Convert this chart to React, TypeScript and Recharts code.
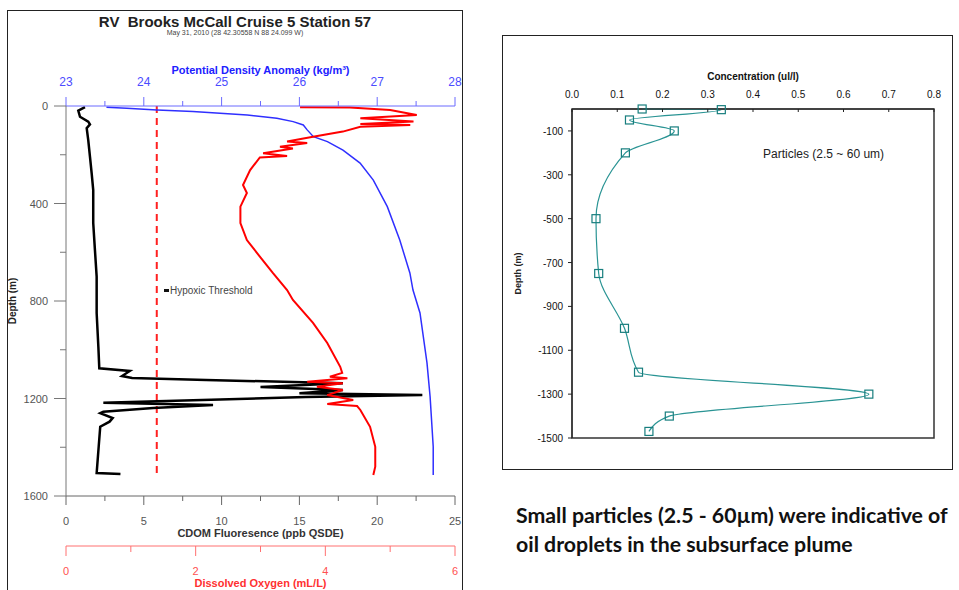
import React from "react";
import { LineChart, Line, XAxis, YAxis, ReferenceArea } from "recharts";

const FONT = '"Liberation Sans", Arial, sans-serif';

// CTD cast, depth in metres
const cdomDepth = [5, 19, 44, 64, 75, 91, 140, 208, 276, 345, 480, 591, 700, 849, 988, 1076, 1087, 1108, 1116, 1124, 1137, 1153, 1165, 1178, 1186, 1194, 1217, 1227, 1239, 1254, 1260, 1280, 1295, 1316, 1398, 1506, 1510];
const cdomValue = [1.22, 0.79, 0.9, 1.43, 1.54, 1.33, 1.43, 1.54, 1.65, 1.75, 1.75, 1.86, 1.97, 1.97, 2.08, 2.14, 4.1, 3.6, 4.25, 9.0, 17.8, 12.5, 17.8, 15.0, 22.9, 15.4, 2.4, 9.45, 5.6, 2.4, 2.2, 3.0, 2.8, 2.2, 2.1, 1.97, 3.5];

const oxyDepth = [5, 6, 16, 37, 50, 64, 74, 78, 85, 105, 126, 146, 152, 167, 174, 194, 205, 211, 263, 324, 357, 413, 480, 550, 618, 685, 755, 796, 890, 972, 1070, 1095, 1111, 1117, 1131, 1137, 1152, 1165, 1186, 1206, 1223, 1231, 1247, 1316, 1398, 1480, 1514];
const oxyValue = [3.61, 4.38, 5.0, 5.41, 4.54, 5.36, 4.54, 5.31, 4.54, 4.27, 3.81, 3.41, 3.72, 3.3, 3.5, 3.04, 3.41, 2.99, 2.84, 2.73, 2.79, 2.69, 2.69, 2.79, 2.99, 3.19, 3.41, 3.5, 3.81, 4.03, 4.23, 4.26, 4.07, 4.34, 3.72, 4.27, 3.87, 4.27, 4.03, 4.43, 4.03, 4.49, 4.54, 4.69, 4.77, 4.77, 4.74];

const densDepth = [5, 9, 16, 23, 37, 50, 64, 78, 98, 126, 146, 181, 234, 304, 413, 550, 685, 755, 849, 1054, 1193, 1398, 1514];
const densValue = [23.52, 23.78, 24.17, 24.63, 25.33, 25.71, 25.92, 26.05, 26.1, 26.18, 26.36, 26.56, 26.78, 26.95, 27.13, 27.29, 27.42, 27.46, 27.55, 27.64, 27.68, 27.72, 27.72];

const hypoxicDepth = [0, 1515];
const hypoxicValue = [1.4, 1.4];

const densTicks = [23, 23.5, 24, 24.5, 25, 25.5, 26, 26.5, 27, 27.5, 28];
const cdomTicks = [0, 2.5, 5, 7.5, 10, 12.5, 15, 17.5, 20, 22.5, 25];
const oxyTicks = [0, 1, 2, 3, 4, 5, 6];
const depthTicks = [0, 200, 400, 600, 800, 1000, 1200, 1400, 1600];

// particle sampling
const partDepth = [0, -3, -50, -100, -200, -500, -750, -1000, -1200, -1300, -1400, -1470];
const partConc = [0.155, 0.33, 0.127, 0.226, 0.118, 0.053, 0.059, 0.116, 0.147, 0.656, 0.215, 0.17];
const concTicks = [0, 0.1, 0.2, 0.3, 0.4, 0.5, 0.6, 0.7, 0.8];
const partDepthTicks = [-1500, -1300, -1100, -900, -700, -500, -300, -100];

const zip = (d: number[], v: number[]) => d.map((depth, i) => ({ depth, value: v[i] }));

const cdomData = zip(cdomDepth, cdomValue);
const oxyData = zip(oxyDepth, oxyValue);
const densData = zip(densDepth, densValue);
const hypoxicData = zip(hypoxicDepth, hypoxicValue);
const partData = zip(partDepth, partConc);

// tick mark + label drawn from the axis line (tickSize/tickMargin are 0)
function xTick(o: { dir: number; isMajor: (v: number) => boolean; major: number; minor: number; dy: number; color: string; line: string; size: number; fmt?: (v: number) => string }) {
  return (p: any) => {
    const { x, y, payload } = p;
    const v = payload.value;
    const maj = o.isMajor(v);
    return (
      <g>
        <line x1={x} x2={x} y1={y} y2={y + o.dir * (maj ? o.major : o.minor)} stroke={o.line} />
        {maj && (
          <text x={x} y={y + o.dy} textAnchor="middle" fill={o.color} fontSize={o.size} fontFamily={FONT}>
            {o.fmt ? o.fmt(v) : v}
          </text>
        )}
      </g>
    );
  };
}

function yTick(o: { isMajor: (v: number) => boolean; major: number; minor: number; dx: number; color: string; line: string; size: number }) {
  return (p: any) => {
    const { x, y, payload } = p;
    const v = payload.value;
    const maj = o.isMajor(v);
    return (
      <g>
        <line x1={x} x2={x - (maj ? o.major : o.minor)} y1={y} y2={y} stroke={o.line} />
        {maj && (
          <text x={x - o.dx} y={y + 4} textAnchor="end" fill={o.color} fontSize={o.size} fontFamily={FONT}>
            {v}
          </text>
        )}
      </g>
    );
  };
}

const xTitle = (text: string, color: string, dy: number, size: number) => ({
  content: (p: any) => {
    const vb = p.viewBox || {};
    return (
      <text x={vb.x + vb.width / 2} y={vb.y + dy} textAnchor="middle" fill={color} fontSize={size} fontWeight="bold" fontFamily={FONT}>
        {text}
      </text>
    );
  },
});

const yTitle = (text: string, dx: number, size: number) => ({
  content: (p: any) => {
    const vb = p.viewBox || {};
    const cx = vb.x + dx;
    const cy = vb.y + vb.height / 2;
    return (
      <text x={cx} y={cy} transform={`rotate(-90 ${cx} ${cy})`} textAnchor="middle" fill="#222" fontSize={size} fontWeight="bold" fontFamily={FONT}>
        {text}
      </text>
    );
  },
});

const SquareDot = (p: any) => {
  const { cx, cy, index } = p;
  if (cx == null || cy == null) return <g key={index} />;
  return <rect key={index} x={cx - 4} y={cy - 4} width={8} height={8} fill="none" stroke="#177e7e" strokeWidth={1.2} />;
};

function CtdChart() {
  return (
    <LineChart layout="vertical" width={454} height={600} margin={{ top: 51, right: 7, bottom: 11, left: 0 }}>
      <XAxis
        xAxisId="dens"
        orientation="top"
        type="number"
        domain={[23, 28]}
        ticks={densTicks}
        interval={0}
        height={44}
        tickSize={0}
        tickMargin={0}
        stroke="#6b6bff"
        tick={xTick({ dir: -1, isMajor: (v) => Number.isInteger(v), major: 9, minor: 5, dy: -20, color: "#4b4bff", line: "#6b6bff", size: 12 })}
        label={xTitle("Potential Density Anomaly (kg/m\u00b3)", "#2020ff", 12, 11)}
      />
      <XAxis
        xAxisId="cdom"
        orientation="bottom"
        type="number"
        domain={[0, 25]}
        ticks={cdomTicks}
        interval={0}
        height={50}
        tickSize={0}
        tickMargin={0}
        stroke="#666"
        tick={xTick({ dir: 1, isMajor: (v) => v % 5 === 0, major: 9, minor: 5, dy: 29, color: "#555", line: "#666", size: 11 })}
        label={xTitle("CDOM Fluoresence (ppb QSDE)", "#333", 41, 11)}
      />
      <XAxis
        xAxisId="do"
        orientation="bottom"
        type="number"
        domain={[0, 6]}
        ticks={oxyTicks}
        interval={0}
        height={54}
        tickSize={0}
        tickMargin={0}
        stroke="#ff7070"
        tick={xTick({ dir: 1, isMajor: (v) => v % 2 === 0, major: 10, minor: 6, dy: 29, color: "#ff5050", line: "#ff7070", size: 11 })}
        label={xTitle("Dissolved Oxygen (mL/L)", "#ff3030", 41, 11)}
      />
      <YAxis
        yAxisId="d"
        type="number"
        dataKey="depth"
        domain={[0, 1600]}
        ticks={depthTicks}
        interval={0}
        width={58}
        tickSize={0}
        tickMargin={0}
        stroke="#777"
        tick={yTick({ isMajor: (v) => v % 400 === 0, major: 12, minor: 6, dx: 18, color: "#555", line: "#777", size: 11 })}
        label={yTitle("Depth (m)", 8, 10)}
      />
      <Line data={hypoxicData} dataKey="value" xAxisId="do" yAxisId="d" type="linear" stroke="#ff2020" strokeWidth={2} strokeDasharray="7 5" dot={false} isAnimationActive={false} />
      <Line data={densData} dataKey="value" xAxisId="dens" yAxisId="d" type="linear" stroke="#2f2fff" strokeWidth={1.5} dot={false} isAnimationActive={false} />
      <Line data={cdomData} dataKey="value" xAxisId="cdom" yAxisId="d" type="linear" stroke="#000" strokeWidth={2.5} dot={false} isAnimationActive={false} />
      <Line data={oxyData} dataKey="value" xAxisId="do" yAxisId="d" type="linear" stroke="#ff0000" strokeWidth={2} dot={false} isAnimationActive={false} />
    </LineChart>
  );
}

function ParticleChart() {
  return (
    <LineChart layout="vertical" width={449} height={433} margin={{ top: 33, right: 18, bottom: 31, left: 0 }}>
      <XAxis
        xAxisId="c"
        orientation="top"
        type="number"
        domain={[0, 0.8]}
        ticks={concTicks}
        interval={0}
        height={40}
        tickSize={0}
        tickMargin={0}
        stroke="#222"
        tick={xTick({ dir: 1, isMajor: () => true, major: 3, minor: 3, dy: -11, color: "#111", line: "#222", size: 10, fmt: (v) => v.toFixed(1) })}
        label={xTitle("Concentration (ul/l)", "#111", 11, 10)}
      />
      <YAxis
        yAxisId="d"
        type="number"
        dataKey="depth"
        domain={[-1500, 0]}
        reversed
        ticks={partDepthTicks}
        interval={0}
        width={69}
        tickSize={0}
        tickMargin={0}
        stroke="#222"
        tick={yTick({ isMajor: () => true, major: 4, minor: 4, dx: 9, color: "#111", line: "#222", size: 10 })}
        label={yTitle("Depth (m)", 18, 9)}
      />
      {/* plot frame */}
      <ReferenceArea xAxisId="c" yAxisId="d" x1={0} x2={0.8} y1={-1500} y2={0} fill="none" stroke="#333" strokeWidth={1.5} ifOverflow="visible" />
      <Line data={partData} dataKey="value" xAxisId="c" yAxisId="d" type="monotone" stroke="#2a9494" strokeWidth={1.2} dot={SquareDot} isAnimationActive={false} />
    </LineChart>
  );
}

export default function App() {
  return (
    <div style={{ position: "fixed", left: 0, top: 0, width: 959, height: 590, overflow: "hidden", background: "#fff", fontFamily: FONT }}>
      <div style={{ position: "absolute", left: 7, top: 10, width: 456, height: 610, border: "1px solid #222", boxSizing: "border-box" }}>
        <CtdChart />
        <div style={{ position: "absolute", left: 0, top: 2, width: 454, textAlign: "center", fontSize: 15, fontWeight: "bold", color: "#222", whiteSpace: "pre" }}>
          {"RV  Brooks McCall Cruise 5 Station 57"}
        </div>
        <div style={{ position: "absolute", left: 0, top: 18, width: 454, textAlign: "center", fontSize: 7, color: "#444" }}>
          May 31, 2010 (28 42.30558 N 88 24.099 W)
        </div>
        <div style={{ position: "absolute", left: 156, top: 274, display: "flex", alignItems: "center", fontSize: 10, color: "#444" }}>
          <span style={{ display: "inline-block", width: 5, height: 3, background: "#111", marginRight: 1 }} />
          Hypoxic Threshold
        </div>
      </div>
      <div style={{ position: "absolute", left: 502, top: 35, width: 451, height: 435, border: "1px solid #222", boxSizing: "border-box" }}>
        <ParticleChart />
        <div style={{ position: "absolute", left: 260, top: 111, fontSize: 12, color: "#222" }}>Particles (2.5 ~ 60 um)</div>
      </div>
      <div style={{ position: "absolute", left: 516, top: 501, fontFamily: "Lato, sans-serif", fontWeight: "bold", fontSize: 21.3, lineHeight: "28.5px", color: "#111", whiteSpace: "nowrap" }}>
        Small particles (2.5 - 60µm) were indicative of
        <br />
        oil droplets in the subsurface plume
      </div>
    </div>
  );
}
